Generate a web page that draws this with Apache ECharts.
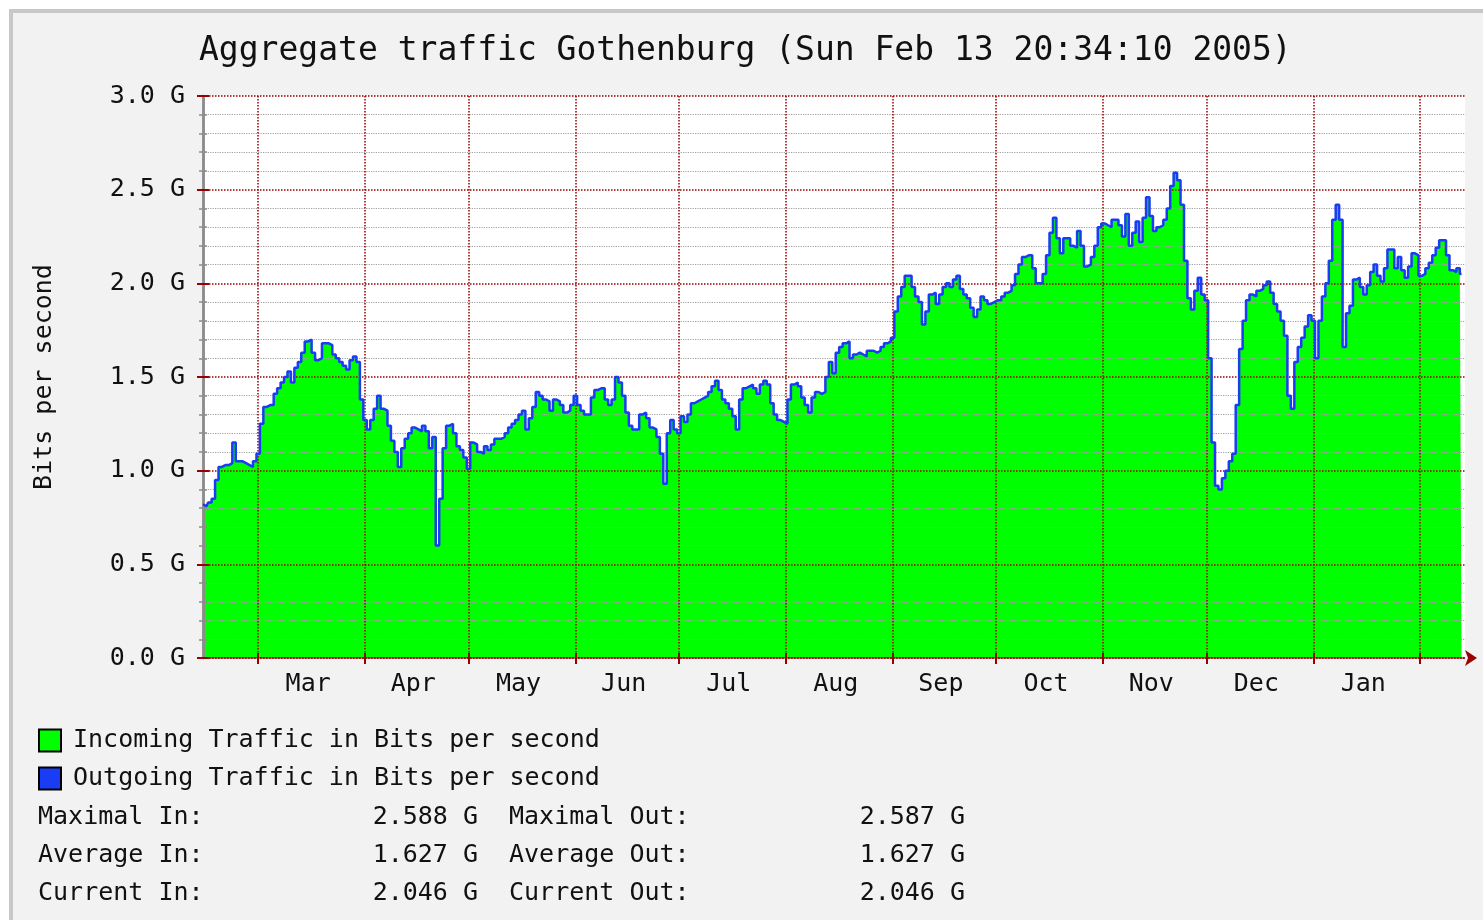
<!DOCTYPE html>
<html>
<head>
<meta charset="utf-8">
<title>Aggregate traffic Gothenburg</title>
<script src="https://cdn.jsdelivr.net/npm/echarts@6/dist/echarts.min.js"></script>
<style>
  html, body { margin: 0; padding: 0; background: #fff; }
  #chart { width: 1483px; height: 920px; }
</style>
</head>
<body>
<div id="chart"></div>
<script>
  // daily averages (Gbit/s), first sample Sat Feb 14 2004
  var startDay = Date.UTC(2004, 1, 14);
  var incoming = [
    0.82, 0.81, 0.83, 0.85, 0.95, 1.02, 1.03, 1.03, 1.04, 1.15,
    1.05, 1.05, 1.04, 1.03, 1.02, 1.05, 1.09, 1.25, 1.34, 1.35,
    1.35, 1.41, 1.44, 1.47, 1.50, 1.53, 1.47, 1.55, 1.58, 1.63,
    1.69, 1.70, 1.63, 1.59, 1.60, 1.68, 1.68, 1.67, 1.62, 1.60,
    1.58, 1.56, 1.54, 1.59, 1.61, 1.58, 1.38, 1.27, 1.22, 1.27,
    1.33, 1.40, 1.33, 1.32, 1.24, 1.16, 1.10, 1.02, 1.12, 1.17,
    1.20, 1.23, 1.22, 1.21, 1.24, 1.21, 1.12, 1.18, 0.60, 0.85,
    1.12, 1.24, 1.25, 1.20, 1.13, 1.11, 1.07, 1.01, 1.15, 1.14,
    1.10, 1.09, 1.13, 1.11, 1.14, 1.17, 1.17, 1.18, 1.20, 1.23,
    1.25, 1.27, 1.30, 1.32, 1.22, 1.28, 1.34, 1.42, 1.40, 1.38,
    1.37, 1.32, 1.38, 1.37, 1.35, 1.31, 1.32, 1.35, 1.40, 1.35,
    1.32, 1.30, 1.30, 1.39, 1.43, 1.44, 1.44, 1.38, 1.35, 1.38,
    1.50, 1.47, 1.40, 1.31, 1.24, 1.22, 1.22, 1.30, 1.31, 1.28,
    1.23, 1.22, 1.18, 1.09, 0.93, 1.20, 1.27, 1.22, 1.20, 1.29,
    1.26, 1.30, 1.36, 1.37, 1.38, 1.39, 1.40, 1.42, 1.45, 1.48,
    1.43, 1.38, 1.36, 1.33, 1.29, 1.22, 1.38, 1.44, 1.45, 1.46,
    1.44, 1.41, 1.46, 1.48, 1.46, 1.36, 1.30, 1.27, 1.26, 1.25,
    1.38, 1.46, 1.47, 1.45, 1.39, 1.35, 1.31, 1.39, 1.42, 1.41,
    1.42, 1.50, 1.58, 1.52, 1.63, 1.66, 1.68, 1.69, 1.60, 1.62,
    1.63, 1.62, 1.61, 1.64, 1.64, 1.63, 1.64, 1.66, 1.68, 1.69,
    1.71, 1.85, 1.93, 1.98, 2.04, 2.04, 1.98, 1.93, 1.90, 1.78,
    1.85, 1.94, 1.95, 1.89, 1.94, 1.98, 2.00, 1.98, 2.02, 2.04,
    1.97, 1.94, 1.92, 1.87, 1.82, 1.86, 1.93, 1.91, 1.89, 1.90,
    1.91, 1.91, 1.93, 1.95, 1.96, 1.99, 2.05, 2.10, 2.14, 2.15,
    2.15, 2.08, 2.00, 2.00, 2.05, 2.15, 2.27, 2.35, 2.24, 2.16,
    2.24, 2.24, 2.20, 2.19, 2.28, 2.20, 2.09, 2.10, 2.14, 2.20,
    2.30, 2.32, 2.31, 2.30, 2.34, 2.34, 2.31, 2.25, 2.37, 2.20,
    2.27, 2.33, 2.22, 2.35, 2.46, 2.36, 2.28, 2.30, 2.31, 2.34,
    2.40, 2.52, 2.59, 2.55, 2.42, 2.12, 1.92, 1.86, 1.96, 2.03,
    1.94, 1.91, 1.60, 1.15, 0.92, 0.90, 0.96, 1.00, 1.05, 1.09,
    1.35, 1.65, 1.80, 1.91, 1.94, 1.93, 1.96, 1.97, 1.99, 2.01,
    1.95, 1.89, 1.85, 1.80, 1.72, 1.40, 1.33, 1.58, 1.66, 1.71,
    1.77, 1.83, 1.80, 1.60, 1.80, 1.93, 2.00, 2.12, 2.34, 2.42,
    2.34, 1.66, 1.84, 1.88, 2.02, 2.03, 1.98, 1.94, 1.99, 2.06,
    2.10, 2.04, 2.01, 2.08, 2.18, 2.18, 2.08, 2.14, 2.07, 2.03,
    2.09, 2.16, 2.15, 2.04, 2.05, 2.08, 2.11, 2.15, 2.19, 2.23,
    2.23, 2.15, 2.07, 2.06, 2.08, 2.05
  ];
  // in and out are the same trace on this graph
  var outgoing = incoming.slice();

  var monthNames = ['Mar', 'Apr', 'May', 'Jun', 'Jul', 'Aug', 'Sep', 'Oct', 'Nov', 'Dec', 'Jan'];
  var statNames = ['Maximal In:', 'Average In:', 'Current In:'];
  var statIn = ['2.588 G', '1.627 G', '2.046 G'];
  var statOutNames = ['Maximal Out:', 'Average Out:', 'Current Out:'];
  var statOut = ['2.587 G', '1.627 G', '2.046 G'];

  var MONO = '"DejaVu Sans Mono", "Liberation Mono", monospace';
  var RED = '#990000';

  // day offsets of every month start from Mar 2004 to Feb 2005
  var monthStarts = [];
  for (var m = 2; m <= 13; m++) {
    monthStarts.push((Date.UTC(2004, m, 1) - startDay) / 86400000);
  }
  var labelPos = [];
  var labelName = {};
  for (var k = 0; k < monthNames.length; k++) {
    var p = (monthStarts[k] + monthStarts[k + 1]) / 2 - 1;
    labelPos.push(p);
    labelName[p] = monthNames[k];
  }

  var inData = incoming.map(function (v, i) { return [i, v]; });
  var outData = outgoing.map(function (v, i) { return [i, v]; });

  function statText(x, y, text, align) {
    return {
      type: 'text', x: x, y: y,
      style: { text: text, font: '25px ' + MONO, fill: '#111', textAlign: align, textVerticalAlign: 'middle' }
    };
  }

  var graphics = [
    {
      type: 'rect', z: -10,
      shape: { x: 11, y: 11, width: 1500, height: 1000 },
      style: { fill: '#f2f2f2', stroke: '#c8c8c8', lineWidth: 4 }
    }
  ];
  statNames.forEach(function (name, i) {
    var y = 817 + i * 38;
    graphics.push(
      statText(38, y, name, 'left'),
      statText(478, y, statIn[i], 'right'),
      statText(509, y, statOutNames[i], 'left'),
      statText(965, y, statOut[i], 'right')
    );
  });

  var chart = echarts.init(document.getElementById('chart'));
  var option = {
    backgroundColor: '#fff',
    animation: false,
    title: {
      text: 'Aggregate traffic Gothenburg (Sun Feb 13 20:34:10 2005)',
      left: 199,
      top: 35,
      padding: 0,
      textStyle: { fontFamily: MONO, fontSize: 33, fontWeight: 'normal', color: '#111' }
    },
    legend: {
      orient: 'vertical',
      left: 38,
      top: 728,
      padding: 0,
      itemWidth: 22,
      itemHeight: 22,
      itemGap: 13,
      icon: 'rect',
      itemStyle: { borderColor: '#000', borderWidth: 2 },
      textStyle: { fontFamily: MONO, fontSize: 25, color: '#111', padding: [0, 0, 0, 7] },
      data: ['Incoming Traffic in Bits per second', 'Outgoing Traffic in Bits per second']
    },
    grid: {
      left: 203, right: 18, top: 96, bottom: 262,
      show: true, backgroundColor: '#fff', borderWidth: 0
    },
    xAxis: [
      {
        type: 'value', min: 0, max: 366, z: 3,
        axisLine: {
          show: true, symbol: ['none', 'arrow'], symbolSize: [12, 12], symbolOffset: [0, 12],
          lineStyle: { color: RED, type: 'dotted', width: 1.5 }
        },
        axisTick: { show: true, customValues: monthStarts, length: 6, lineStyle: { color: RED, width: 2 } },
        axisLabel: {
          customValues: labelPos, margin: 14,
          fontFamily: MONO, fontSize: 25, color: '#111',
          formatter: function (v) { return labelName[v] || ''; }
        },
        splitLine: { show: true, lineStyle: { color: RED, type: 'dotted', width: 1.5 } }
      },
      {
        type: 'value', min: 0, max: 366, position: 'top', z: 3,
        axisLine: { show: false },
        axisTick: { show: true, customValues: monthStarts, length: 5, lineStyle: { color: RED, width: 2 } },
        axisLabel: { show: false },
        splitLine: { show: false }
      }
    ],
    yAxis: [
      {
        type: 'value', min: 0, max: 3, interval: 0.5, z: 3,
        name: 'Bits per second',
        nameLocation: 'middle',
        nameGap: 146,
        nameTextStyle: { fontFamily: MONO, fontSize: 25, color: '#111' },
        axisLine: { show: true, lineStyle: { color: '#8c8c8c', width: 2.5 } },
        axisTick: { show: true, length: 6, lineStyle: { color: RED, width: 2 } },
        minorTick: { show: true, splitNumber: 5, length: 4, lineStyle: { color: '#8c8c8c', width: 1.5 } },
        axisLabel: {
          margin: 18, fontFamily: MONO, fontSize: 25, color: '#111',
          formatter: function (v) { return v.toFixed(1) + ' G'; }
        },
        splitLine: { show: true, lineStyle: { color: RED, type: 'dotted', width: 1.5 } },
        minorSplitLine: { show: true, lineStyle: { color: '#a0a0a0', type: 'dotted', width: 1.2 } }
      },
      {
        type: 'value', min: 0, max: 3, interval: 0.5, position: 'right', z: 3,
        axisLine: { show: true, lineStyle: { color: '#8c8c8c', width: 2.5 } },
        axisTick: { show: true, length: 6, lineStyle: { color: RED, width: 2 } },
        minorTick: { show: true, splitNumber: 5, length: 4, lineStyle: { color: '#8c8c8c', width: 1.5 } },
        axisLabel: { show: false },
        splitLine: { show: false }
      }
    ],
    series: [
      {
        name: 'Incoming Traffic in Bits per second',
        type: 'line',
        step: 'middle',
        showSymbol: false,
        z: 2,
        itemStyle: { color: '#00ff00' },
        lineStyle: { width: 0, color: '#00ff00' },
        areaStyle: { color: '#00ff00', opacity: 1 },
        data: inData
      },
      {
        name: 'Outgoing Traffic in Bits per second',
        type: 'line',
        step: 'middle',
        showSymbol: false,
        z: 10,
        itemStyle: { color: '#1a3cf5' },
        lineStyle: { width: 2.5, color: '#1a3cf5' },
        data: outData
      }
    ],
    graphic: graphics
  };
  chart.setOption(option);
</script>
</body>
</html>
